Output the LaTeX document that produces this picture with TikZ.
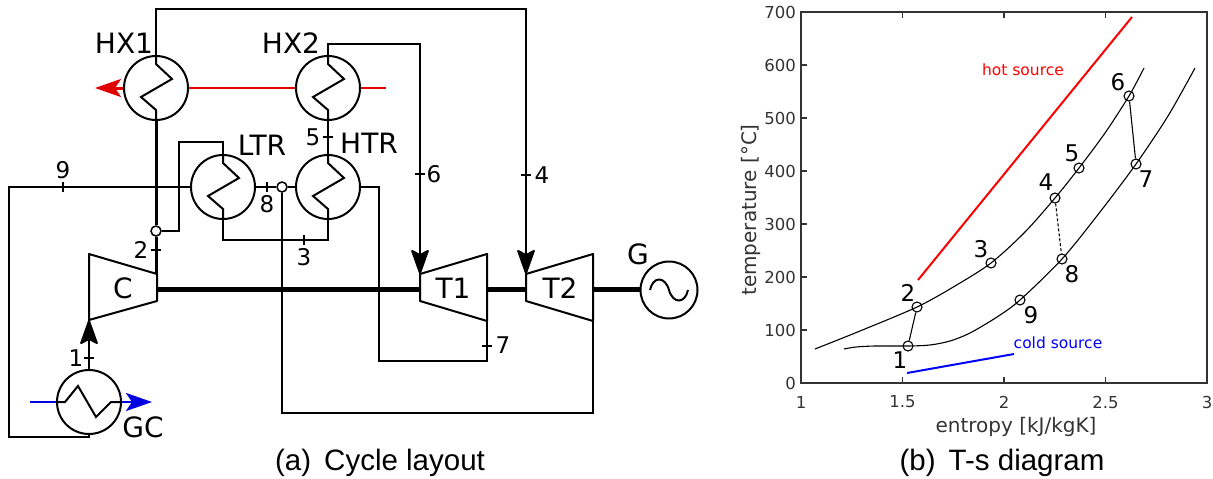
\documentclass[tikz,border=0pt]{standalone}
\usepackage{fontspec}
\setmainfont{DejaVu Sans}
\newfontfamily\capfont{Liberation Sans}
\usetikzlibrary{positioning,arrows.meta}
\definecolor{axisgray}{HTML}{333333}
\definecolor{hotred}{HTML}{E00000}
\definecolor{coldblue}{HTML}{0000E0}

\begin{document}
\begin{tikzpicture}[x=1pt,y=-1pt,
    pipe/.style={line width=2pt},
    hx/.style={circle,draw,line width=2pt,minimum size=64pt,inner sep=0pt},
    comp/.style={font=\fontsize{28}{30}\selectfont,inner sep=0pt},
    num/.style={font=\fontsize{23}{25}\selectfont,inner sep=0pt},
    flow/.style={-{Stealth[round,length=27pt,width=19pt,inset=5pt]},line width=2pt},
    stream/.style={-{Stealth[length=26pt,width=18pt,inset=6pt]}},
    joint/.style={circle,draw,fill=white,line width=1.5pt,minimum size=10pt,inner sep=0pt},
    statept/.style={circle,draw,line width=1.1pt,minimum size=10pt,inner sep=0pt},
    axnum/.style={font=\fontsize{16.5}{18}\selectfont,text=axisgray,inner sep=0pt},
    axlabel/.style={font=\fontsize{20}{22}\selectfont,text=axisgray,inner sep=0pt},
    statenum/.style={font=\fontsize{23}{25}\selectfont,inner sep=0pt},
    caption/.style={font=\capfont\fontsize{29.5}{32}\selectfont,inner sep=0pt},
  ]
  \useasboundingbox (0,0) rectangle (1213,479);

  % heat exchangers
  \node[hx] (hx1) at (156,88) {};
  \node[hx,right=106pt of hx1] (hx2) {};
  \node[hx,below=33pt of hx2] (htr) {};
  \node[hx,left=39pt of htr] (ltr) {};
  \node[hx] (gc) at (89,402) {};
  \node[circle,draw,line width=2pt,minimum size=57pt,inner sep=0pt] (gen) at (669,290) {};
  \node[joint] (j2) at (156,231) {};
  \node[joint] (j8) at (282,187) {};

  \foreach \n in {hx1,hx2,ltr,htr}{
    \draw[pipe] (\n.north) -- ++(0,9) -- ++(16,15) -- ++(-31,18) -- ++(15,13) -- (\n.south);
  }
  \draw[pipe] (gc.west) -- ++(9,0) -- ++(13,-16) -- ++(18,31) -- ++(15,-15) -- (gc.east);
  \draw[pipe,shift={(gen.center)}] (-19,0) .. controls (-16,-14) and (-4,-14) .. (0,0)
    .. controls (4,14) and (16,14) .. (19,0);

  % machines
  \coordinate (c1) at (89,254);
  \coordinate (c2) at (157,274);
  \coordinate (c3) at (157,301);
  \coordinate (c4) at (89,320);
  \draw[pipe,line join=round] (c1) -- (c2) -- (c3) -- (c4) -- cycle;
  \node[comp] (cname) at (123,288) {C};
  \coordinate (a1) at (420,274);
  \coordinate (a2) at (487,254);
  \coordinate (a3) at (487,321);
  \coordinate (a4) at (420,301);
  \draw[pipe,line join=round] (a1) -- (a2) -- (a3) -- (a4) -- cycle;
  \node[comp] (t1name) at (453,288) {T1};
  \coordinate (b1) at (526,274);
  \coordinate (b2) at (593,254);
  \coordinate (b3) at (593,321);
  \coordinate (b4) at (526,301);
  \draw[pipe,line join=round] (b1) -- (b2) -- (b3) -- (b4) -- cycle;
  \node[comp] (t2name) at (560,288) {T2};

  % shaft
  \coordinate (s1) at (157,289);
  \coordinate (s2) at (420,289);
  \coordinate (s3) at (487,289);
  \coordinate (s4) at (526,289);
  \coordinate (s5) at (593,289);
  \draw[line width=5pt] (s1) -- (s2);
  \draw[line width=5pt] (s3) -- (s4);
  \draw[line width=5pt] (s5) -- (gen.west |- s5);

  % pipes
  \draw[pipe] (hx1.north) |- (526,9) -- (b1);
  \draw[flow] (526,200) -- (b1);
  \draw[pipe] (hx2.north) |- (420,44) -- (a1);
  \draw[flow] (420,200) -- (a1);
  \draw[line width=3pt] (hx1.south) -- (j2);
  \draw[line width=3pt] (j2) -- (156,274);
  \draw[pipe] (j2) -| (179,142) -| (ltr.north);
  \draw[pipe] (ltr.west) -| (9,280) |- (89,437) -- (gc.south);
  \draw[pipe] (ltr.east) -- (j8);
  \draw[pipe] (j8) -- (htr.west);
  \draw[pipe] (j8) |- (593,413) -- (b3);
  \draw[pipe] (ltr.south) |- (328,240) -- (htr.south);
  \draw[pipe] (htr.north) -- (hx2.south);
  \draw[pipe] (htr.east) -| (379,361) -| (a3);
  \draw[flow] (gc.north) -- (c4);

  % hot and cold streams
  \coordinate (redin) at (386,88);
  \coordinate (redout) at (95,88);
  \coordinate (bluein) at (30,402);
  \coordinate (blueout) at (152,402);
  \draw[hotred,line width=2.5pt] (hx2.west) -- (hx1.east);
  \draw[hotred,line width=2pt] (hx2.east) -- (redin);
  \draw[hotred,stream,line width=3pt] (hx1.west) -- (redout);
  \draw[coldblue,line width=2pt] (bluein) -- (gc.west);
  \draw[coldblue,stream,line width=2.5pt] (gc.east) -- (blueout);

  % state marks
  \foreach \x/\y/\nm/\lx/\ly/\lab in {89/358/m1/76/358/1,156/250/m2/141/250/2,328/137/m5/313/137/5,420/174/m6/434/174/6,526/175/m4/542/175/4,487/346/m7/503/345/7}{
    \coordinate (\nm) at (\x,\y);
    \draw[line width=1.2pt] ([xshift=-5pt]\nm) -- ([xshift=5pt]\nm);
    \node[num] (l\nm) at (\lx,\ly) {\lab};
  }
  \foreach \x/\y/\nm/\lx/\ly/\lab in {63/187/m9/63/170/9,267/187/m8/267/204/8,304/240/m3/304/257/3}{
    \coordinate (\nm) at (\x,\y);
    \draw[line width=1.2pt] ([yshift=-5pt]\nm) -- ([yshift=5pt]\nm);
    \node[num] (l\nm) at (\lx,\ly) {\lab};
  }

  \node[comp] (hx1name) at (124,43) {HX1};
  \node[comp] (hx2name) at (291,43) {HX2};
  \node[comp] (ltrname) at (262,145) {LTR};
  \node[comp] (htrname) at (369,143) {HTR};
  \node[comp] (gname) at (638,254) {G};
  \node[comp] (gcname) at (143,427) {GC};
  \node[caption] (capa) at (380,463) {(a)\, Cycle layout};
  \node[caption] (capb) at (1002,463) {(b)\, T-s diagram};

  % T-s diagram
  \coordinate (ax1) at (801,383);
  \coordinate (ax2) at (1207,12);
  \draw[axisgray,line width=1.5pt] (ax1) rectangle (ax2);
  \foreach \v/\lab in {0/0,1/100,2/200,3/300,4/400,5/500,6/600,7/700}{
    \draw[axisgray,line width=1.2pt] (801,383-53*\v) -- (807,383-53*\v);
    \node[axnum,anchor=east] (yt\v) at (796,383-53*\v) {\lab};
  }
  \foreach \v/\lab in {0/1,1/1.5,2/2,3/2.5,4/3}{
    \draw[axisgray,line width=1.2pt] (801+101.5*\v,383) -- (801+101.5*\v,377);
    \draw[axisgray,line width=1.2pt] (801+101.5*\v,12) -- (801+101.5*\v,18);
    \node[axnum] (xt\v) at (801+101.5*\v,402) {\lab};
  }
  \node[axlabel] (xlabel) at (1016,427) {entropy [kJ/kgK]};
  \node[axlabel,rotate=90] (ylabel) at (751,210) {temperature [°C]};

  \draw[line width=1.1pt] plot[smooth] coordinates {(815,349) (860,331) (917,307) (955,286) (991,263) (1025,232) (1055,198) (1079,168) (1105,133) (1129,96) (1144,68)};
  \draw[line width=1.1pt] plot[smooth] coordinates {(844,349) (856,347) (875,346) (908,346) (930,345) (950,341) (970,333) (997,317) (1020,300) (1062,259) (1100,212) (1136,164) (1168,116) (1195,68)};

  \foreach \nm/\x/\y/\lx/\ly/\lab in {p1/908/346/900/360/1,p2/917/307/908/293/2,p3/991/263/981/249/3,p4/1055/198/1046/182/4,p5/1079/168/1072/153/5,p6/1129/96/1118/82/6,p7/1136/164/1146/179/7,p8/1062/259/1072/274/8,p9/1020/300/1031/315/9}{
    \node[statept] (\nm) at (\x,\y) {};
    \node[statenum] (l\nm) at (\lx,\ly) {\lab};
  }
  \draw[line width=1.1pt] (p1) -- (p2);
  \draw[line width=1.1pt] (p6) -- (p7);
  \draw[line width=1.1pt,densely dashed] (p4) -- (p8);

  \coordinate (hot1) at (918,280);
  \coordinate (hot2) at (1132,17);
  \coordinate (cold1) at (907,373);
  \coordinate (cold2) at (1014,354);
  \draw[red,line width=2pt] (hot1) -- (hot2);
  \draw[blue,line width=2pt] (cold1) -- (cold2);
  \node[font=\fontsize{15.5}{17}\selectfont,text=red,inner sep=0pt] (hotlab) at (1023,70) {hot source};
  \node[font=\fontsize{15.5}{17}\selectfont,text=blue,inner sep=0pt] (coldlab) at (1058,343) {cold source};
\end{tikzpicture}
\end{document}
